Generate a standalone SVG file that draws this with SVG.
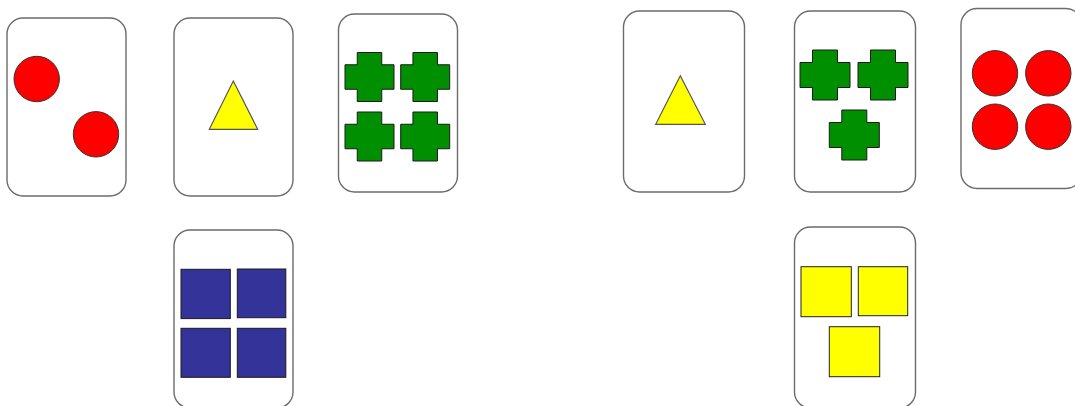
<svg xmlns="http://www.w3.org/2000/svg" width="1075" height="406" viewBox="0 0 1075 406">
<defs>
<style>
.card{fill:#ffffff;stroke:#6b6b6b;stroke-width:1.4}
.red{fill:#ff0000;stroke:#333333;stroke-width:1}
.yel{fill:#ffff00;stroke:#555555;stroke-width:1.2}
.grn{fill:#008f00;stroke:#1a1a1a;stroke-width:1}
.blu{fill:#333399;stroke:#1a1a1a;stroke-width:1}
.ysq{fill:#ffff00;stroke:#222222;stroke-width:1}
</style>
<path id="cross49" d="M12.25,0 H36.75 V12.25 H49 V36.75 H36.75 V49 H12.25 V36.75 H0 V12.25 H12.25 Z"/>
<path id="cross50" d="M12.5,0 H37.5 V12.5 H50 V37.5 H37.5 V50 H12.5 V37.5 H0 V12.5 H12.5 Z"/>
</defs>
<rect width="1075" height="406" fill="#ffffff"/>
<g id="card1">
<rect class="card" x="7" y="18" width="119" height="178" rx="16"/>
<circle class="red" cx="36.7" cy="79" r="22.7"/>
<circle class="red" cx="96" cy="134.3" r="22.7"/>
</g>
<g id="card2">
<rect class="card" x="174" y="18" width="119" height="178" rx="16"/>
<polygon class="yel" points="233.3,81 257.7,129.3 209.3,129.3"/>
</g>
<g id="card3">
<rect class="card" x="338.5" y="14" width="119" height="178" rx="16"/>
<use href="#cross49" class="grn" x="345" y="52.5"/>
<use href="#cross49" class="grn" x="400.7" y="52.5"/>
<use href="#cross49" class="grn" x="345" y="112"/>
<use href="#cross49" class="grn" x="400.7" y="112"/>
</g>
<g id="card4">
<rect class="card" x="174" y="230" width="119" height="178" rx="16"/>
<rect class="blu" x="181" y="269.3" width="49.3" height="49.3"/>
<rect class="blu" x="237.3" y="269" width="48.5" height="48.7"/>
<rect class="blu" x="181" y="328.3" width="49.3" height="49"/>
<rect class="blu" x="237.3" y="328.3" width="48.5" height="49"/>
</g>
<g id="card5">
<rect class="card" x="623.5" y="11" width="121" height="181" rx="16"/>
<polygon class="yel" points="680.3,75.7 705.3,124.3 655.7,124.3"/>
</g>
<g id="card6">
<rect class="card" x="794.5" y="11" width="121" height="181" rx="16"/>
<use href="#cross50" class="grn" x="800" y="50"/>
<use href="#cross50" class="grn" x="858" y="50"/>
<use href="#cross50" class="grn" x="829.3" y="110"/>
</g>
<g id="card7">
<rect class="card" x="961" y="8.5" width="121" height="180" rx="16"/>
<circle class="red" cx="995" cy="73.3" r="22.7"/>
<circle class="red" cx="1048.3" cy="73.3" r="22.7"/>
<circle class="red" cx="995" cy="126.7" r="22.7"/>
<circle class="red" cx="1048.3" cy="126.7" r="22.7"/>
</g>
<g id="card8">
<rect class="card" x="794.5" y="227" width="121" height="181" rx="16"/>
<rect class="ysq" x="801" y="266.7" width="50.3" height="50"/>
<rect class="ysq" x="858.3" y="266.7" width="49.4" height="49"/>
<rect class="ysq" x="829.3" y="326.7" width="50.4" height="50"/>
</g>
<g id="connectors"/>
</svg>
